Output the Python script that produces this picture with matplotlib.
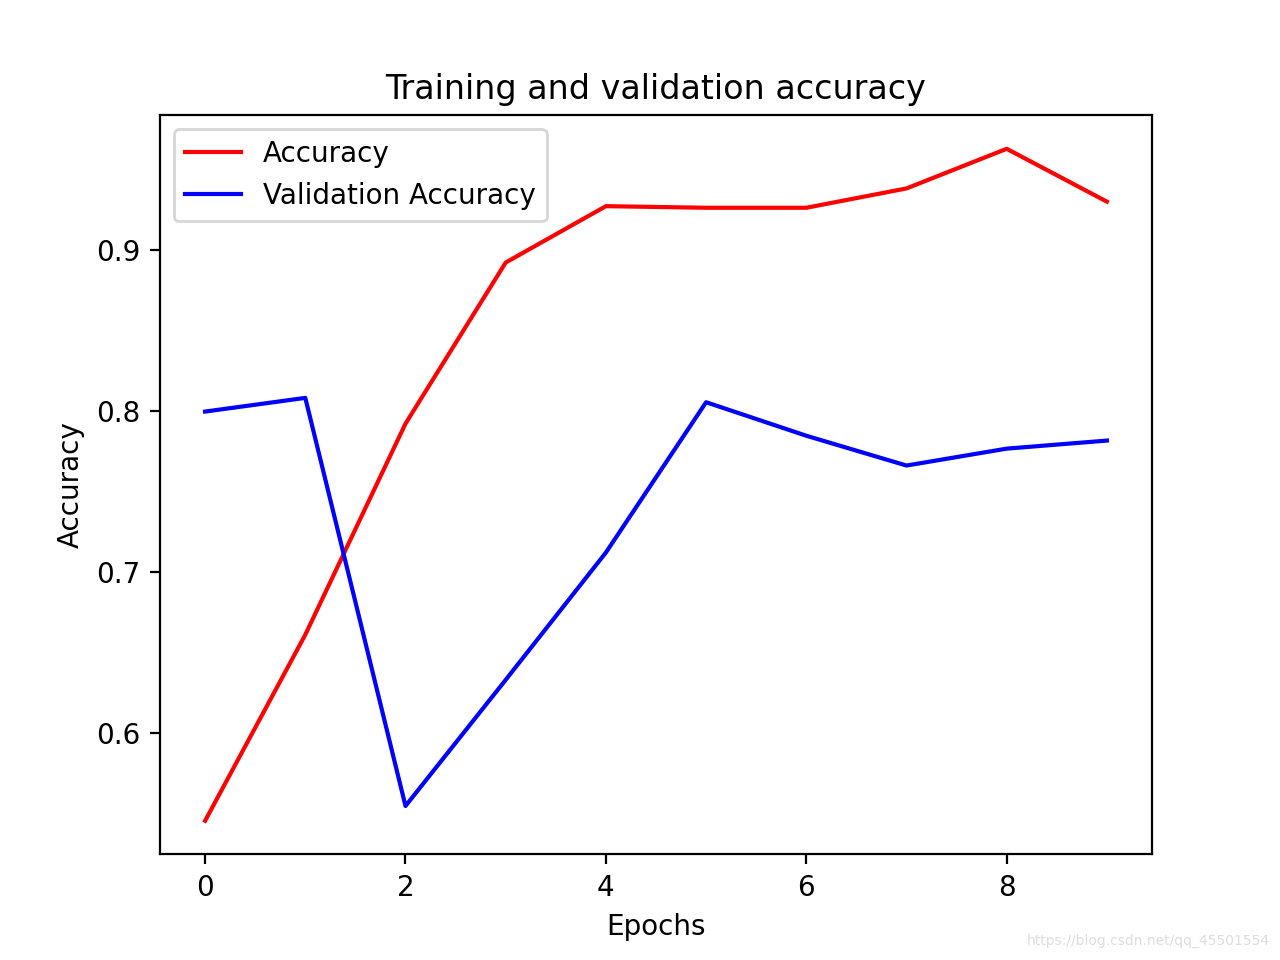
import numpy as np
import matplotlib.pyplot as plt

epochs = list(range(10))
acc = [0.5455, 0.661, 0.792, 0.892, 0.927, 0.926, 0.926, 0.938, 0.9626, 0.9298]
val_acc = [0.7995, 0.808, 0.5547, 0.633, 0.712, 0.8053, 0.7845, 0.766, 0.7765, 0.7815]

plt.figure(figsize=(6.4, 4.8), dpi=200)
plt.plot(epochs, acc, 'r', label='Accuracy')
plt.plot(epochs, val_acc, 'b', label='Validation Accuracy')
plt.title('Training and validation accuracy')
plt.xlabel('Epochs')
plt.ylabel('Accuracy')
plt.legend()
plt.gcf().text(0.992, 0.012, 'https://blog.csdn.net/qq_45501554', ha='right', va='bottom',
               fontsize=5, color='#dddddd')
plt.savefig('out.png', dpi=200)
